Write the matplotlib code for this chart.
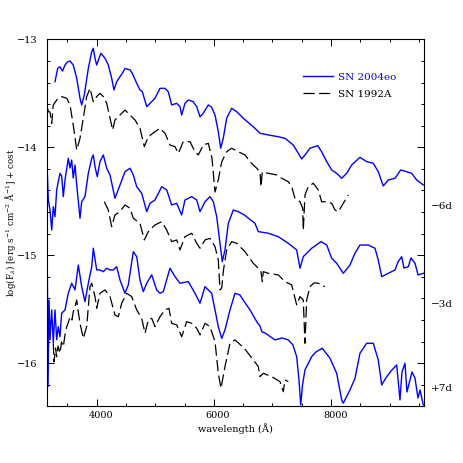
import matplotlib
matplotlib.use("Agg")
import matplotlib.pyplot as plt
from matplotlib.ticker import MultipleLocator
from matplotlib.transforms import ScaledTranslation

plt.rcParams['font.family'] = ['DejaVu Serif']
plt.rcParams['mathtext.fontset'] = 'dejavuserif'

# ---- SN 2004eo, -6d (top) ----
wl_eo_m6 = [3288, 3334, 3373, 3416, 3459, 3501, 3544, 3600, 3659, 3715, 3744, 3788, 3857, 3915, 3942,
            3971, 4000, 4039, 4073, 4142, 4198, 4256, 4295, 4341, 4398, 4454, 4483, 4569, 4608, 4683,
            4739, 4779, 4854, 4910, 4995, 5081, 5166, 5222, 5280, 5366, 5422, 5451, 5507, 5564, 5649,
            5707, 5764, 5820, 5905, 5960, 6020, 6076, 6117, 6161, 6219, 6305, 6390, 6503, 6702, 6788,
            6930, 7100, 7215, 7356, 7442, 7500, 7556, 7641, 7773, 7841, 7927, 8012, 8097, 8183, 8268,
            8353, 8495, 8609, 8722, 8807, 8893, 8978, 9093, 9190, 9292, 9378, 9463, 9576]
fl_eo_m6 = [-13.393, -13.269, -13.254, -13.294, -13.238, -13.210, -13.201, -13.238, -13.361, -13.546,
            -13.608, -13.516, -13.269, -13.115, -13.083, -13.176, -13.238, -13.176, -13.130, -13.176,
            -13.238, -13.361, -13.469, -13.393, -13.346, -13.300, -13.269, -13.284, -13.315, -13.407,
            -13.469, -13.485, -13.624, -13.593, -13.546, -13.454, -13.454, -13.485, -13.608, -13.593,
            -13.624, -13.701, -13.593, -13.562, -13.578, -13.624, -13.717, -13.685, -13.608, -13.627,
            -13.701, -13.856, -14.009, -13.917, -13.731, -13.639, -13.670, -13.731, -13.824, -13.870,
            -13.886, -13.902, -13.917, -13.979, -14.056, -14.108, -14.071, -14.009, -13.985, -14.041,
            -14.133, -14.210, -14.241, -14.287, -14.241, -14.164, -14.093, -14.133, -14.148, -14.226,
            -14.358, -14.303, -14.287, -14.210, -14.226, -14.241, -14.303, -14.349]

# ---- SN 1992A, -6d ----
wl_92_m6 = [3160, 3174, 3203, 3232, 3259, 3317, 3402, 3488, 3544, 3600, 3659, 3715, 3771, 3829, 3886,
            3942, 4000, 4056, 4113, 4171, 4273, 4312, 4398, 4483, 4569, 4654, 4739, 4813, 4881, 4995,
            5081, 5166, 5251, 5337, 5393, 5478, 5593, 5678, 5735, 5820, 5905, 5968, 6020, 6076, 6134,
            6219, 6305, 6417, 6532, 6617, 6732, 6788, 6805, 6827, 6930, 7073, 7158, 7271, 7329, 7385,
            7471, 7517, 7527, 7556, 7612, 7698, 7783, 7841, 7927, 8012, 8068, 8125, 8210, 8295]
fl_92_m6 = [-13.636, -13.670, -13.673, -13.778, -13.608, -13.562, -13.531, -13.546, -13.608, -13.794,
            -14.025, -13.917, -13.731, -13.531, -13.454, -13.578, -13.531, -13.500, -13.531, -13.593,
            -13.840, -13.747, -13.701, -13.655, -13.701, -13.747, -13.824, -13.994, -13.902, -13.856,
            -13.824, -13.870, -13.979, -13.994, -14.056, -13.948, -13.948, -14.041, -14.071, -13.979,
            -13.963, -14.099, -14.414, -14.303, -14.136, -14.041, -14.009, -14.041, -14.071, -14.133,
            -14.194, -14.229, -14.365, -14.229, -14.241, -14.256, -14.287, -14.319, -14.365, -14.472,
            -14.504, -14.565, -14.766, -14.442, -14.365, -14.333, -14.395, -14.504, -14.504, -14.519,
            -14.581, -14.596, -14.519, -14.442]

# ---- SN 2004eo, -3d ----
wl_eo_m3 = [3158, 3174, 3203, 3232, 3259, 3288, 3317, 3373, 3402, 3430, 3459, 3515, 3544, 3573, 3600,
            3630, 3659, 3715, 3744, 3800, 3857, 3915, 3942, 3971, 4010, 4056, 4113, 4171, 4227, 4312,
            4398, 4483, 4569, 4625, 4683, 4768, 4854, 4910, 4995, 5110, 5195, 5280, 5366, 5451, 5507,
            5622, 5707, 5764, 5849, 5934, 5991, 6049, 6105, 6144, 6190, 6247, 6332, 6417, 6520, 6702,
            6759, 6930, 7100, 7271, 7414, 7471, 7527, 7670, 7829, 7927, 8012, 8097, 8210, 8324, 8410,
            8495, 8637, 8751, 8807, 8866, 8978, 9093, 9144, 9207, 9246, 9320, 9365, 9434, 9487, 9576]
fl_eo_m3 = [-14.241, -14.488, -14.581, -14.766, -14.550, -14.643, -14.395, -14.241, -14.266, -14.457,
            -14.303, -14.102, -14.192, -14.118, -14.284, -14.164, -14.349, -14.657, -14.504, -14.457,
            -14.241, -14.102, -14.071, -14.180, -14.272, -14.133, -14.071, -14.194, -14.256, -14.472,
            -14.349, -14.226, -14.194, -14.256, -14.365, -14.426, -14.596, -14.519, -14.488, -14.365,
            -14.395, -14.534, -14.519, -14.627, -14.488, -14.457, -14.488, -14.596, -14.504, -14.457,
            -14.504, -14.643, -14.889, -15.059, -14.951, -14.704, -14.581, -14.596, -14.627, -14.704,
            -14.781, -14.796, -14.828, -14.889, -14.951, -15.120, -15.013, -14.935, -14.874, -14.905,
            -15.028, -15.074, -15.167, -15.090, -14.981, -14.905, -14.905, -14.935, -15.044, -15.198,
            -15.167, -15.136, -15.062, -15.013, -15.118, -15.106, -15.025, -15.074, -15.182, -15.167]

# ---- SN 1992A, -3d ----
wl_92_m3 = [4130, 4198, 4256, 4312, 4398, 4483, 4569, 4625, 4739, 4813, 4881, 4995, 5110, 5195, 5280,
            5366, 5422, 5507, 5622, 5707, 5764, 5849, 5934, 6020, 6076, 6105, 6134, 6165, 6219, 6305,
            6390, 6532, 6673, 6759, 6805, 6827, 6844, 6930, 7100, 7215, 7329, 7414, 7471, 7527, 7556,
            7585, 7641, 7710, 7783, 7898]
fl_92_m3 = [-14.504, -14.581, -14.735, -14.627, -14.596, -14.534, -14.565, -14.657, -14.704, -14.858,
            -14.781, -14.719, -14.689, -14.766, -14.874, -14.858, -14.951, -14.828, -14.796, -14.889,
            -14.935, -14.858, -14.843, -14.920, -15.044, -15.321, -15.303, -15.136, -14.951, -14.874,
            -14.889, -14.967, -15.074, -15.120, -15.152, -15.244, -15.152, -15.167, -15.182, -15.244,
            -15.275, -15.460, -15.383, -15.414, -15.815, -15.414, -15.291, -15.256, -15.259, -15.291]

# ---- SN 2004eo, +7d ----
wl_eo_p7 = [3158, 3169, 3186, 3203, 3232, 3259, 3288, 3317, 3344, 3373, 3402, 3459, 3515, 3573, 3630,
            3686, 3744, 3800, 3857, 3915, 3942, 4000, 4056, 4113, 4171, 4227, 4283, 4341, 4398, 4483,
            4539, 4625, 4683, 4739, 4796, 4854, 4939, 5024, 5081, 5137, 5251, 5337, 5422, 5564, 5678,
            5764, 5849, 5963, 6020, 6076, 6134, 6190, 6276, 6361, 6446, 6520, 6617, 6732, 6788, 6822,
            6873, 7044, 7163, 7271, 7351, 7414, 7454, 7483, 7514, 7556, 7670, 7744, 7851, 7983, 8097,
            8183, 8210, 8324, 8410, 8495, 8609, 8722, 8807, 8866, 8951, 9041, 9122, 9178, 9212, 9263,
            9297, 9349, 9383, 9434, 9485, 9520, 9576]
fl_eo_p7 = [-15.182, -16.217, -15.414, -15.782, -15.506, -15.812, -15.506, -15.782, -15.661, -15.754,
            -15.537, -15.506, -15.352, -15.259, -15.321, -15.090, -15.291, -15.430, -15.259, -15.106,
            -14.935, -15.136, -15.136, -15.152, -15.120, -15.136, -15.136, -15.106, -15.229, -15.352,
            -15.275, -14.967, -15.013, -15.229, -15.337, -15.259, -15.182, -15.321, -15.352, -15.337,
            -15.120, -15.198, -15.259, -15.244, -15.352, -15.444, -15.291, -15.352, -15.506, -15.661,
            -15.769, -15.692, -15.506, -15.352, -15.368, -15.430, -15.506, -15.615, -15.655, -15.710,
            -15.719, -15.784, -15.766, -15.784, -15.831, -15.939, -16.155, -16.386, -16.201, -16.062,
            -15.939, -15.895, -15.861, -15.954, -16.093, -16.340, -16.370, -16.247, -16.139, -15.907,
            -15.815, -15.815, -15.969, -16.201, -16.124, -16.062, -16.016, -16.340, -16.081, -16.000,
            -16.266, -16.154, -16.081, -16.136, -16.322, -16.248, -16.386]

# ---- SN 1992A, +7d ----
wl_92_p7 = [3259, 3271, 3297, 3317, 3339, 3373, 3399, 3430, 3459, 3488, 3519, 3544, 3578, 3600, 3638,
            3659, 3681, 3715, 3771, 3829, 3886, 3915, 3971, 4000, 4056, 4142, 4227, 4312, 4369, 4427,
            4512, 4598, 4683, 4768, 4825, 4881, 4939, 4995, 5081, 5166, 5234, 5280, 5366, 5451, 5536,
            5622, 5707, 5764, 5849, 5934, 6020, 6076, 6122, 6190, 6276, 6361, 6520, 6673, 6759, 6788,
            6844, 6988, 7129, 7186, 7215, 7271]
fl_92_p7 = [-15.815, -15.988, -15.859, -15.939, -15.840, -15.907, -15.803, -15.846, -15.738, -15.661,
            -15.618, -15.569, -15.599, -15.522, -15.460, -15.414, -15.506, -15.630, -15.769, -15.661,
            -15.291, -15.259, -15.383, -15.491, -15.352, -15.321, -15.383, -15.553, -15.569, -15.444,
            -15.352, -15.383, -15.506, -15.583, -15.722, -15.599, -15.583, -15.661, -15.569, -15.506,
            -15.491, -15.630, -15.645, -15.754, -15.615, -15.630, -15.676, -15.738, -15.630, -15.661,
            -15.800, -16.093, -16.231, -16.031, -15.815, -15.784, -15.861, -15.969, -16.031, -16.124,
            -16.093, -16.124, -16.170, -16.263, -16.155, -16.170]

epoch_labels = ["\u22126d", "\u22123d", "+7d"]
epoch_label_y = [-14.553, -15.458, -16.236]
legend_labels = ["SN 2004eo", "SN 1992A"]

fig = plt.figure(figsize=(4.63, 4.63), dpi=100)
ax = fig.add_axes([0.1022, 0.1238, 0.8142, 0.7913])

blue_kw = dict(color="blue", lw=1.0)
black_kw = dict(color="black", lw=0.9, dashes=(9, 3.5))

lb, = ax.plot(wl_eo_m6, fl_eo_m6, label=legend_labels[0], **blue_kw)
lk, = ax.plot(wl_92_m6, fl_92_m6, label=legend_labels[1], **black_kw)
ax.plot(wl_eo_m3, fl_eo_m3, **blue_kw)
ax.plot(wl_92_m3, fl_92_m3, **black_kw)
ax.plot(wl_eo_p7, fl_eo_p7, **blue_kw)
ax.plot(wl_92_p7, fl_92_p7, **black_kw)

ax.set_xlim(3157, 9593)
ax.set_ylim(-16.393, -13.0)

ax.xaxis.set_major_locator(MultipleLocator(2000))
ax.xaxis.set_minor_locator(MultipleLocator(500))
ax.yaxis.set_major_locator(MultipleLocator(1))
ax.yaxis.set_minor_locator(MultipleLocator(0.2))
ax.tick_params(which="both", direction="in", top=True, right=True, width=0.7, labelsize=7)
ax.tick_params(which="major", length=4.8)
ax.tick_params(which="minor", length=2.5)
ax.tick_params(axis="y", pad=7)
ax.tick_params(axis="x", pad=4)
for s in ax.spines.values():
    s.set_linewidth(0.8)

ax.yaxis.set_major_formatter(matplotlib.ticker.FuncFormatter(lambda v, p: f"{v:.0f}".replace("-", "\u2212")))
for lab in ax.get_xticklabels():
    lab.set_transform(lab.get_transform() + ScaledTranslation(3 / 72, 0, fig.dpi_scale_trans))

ax.set_xlabel("wavelength (\u00c5)", fontsize=7, labelpad=2)
ax.set_ylabel(r"log(F$_\lambda$) [erg s$^{-1}$ cm$^{-2}$ $\mathrm{\AA}^{-1}$] + cost", fontsize=6.3)
ax.yaxis.set_label_coords(-0.098, 0.5)
ax.yaxis.label.set_va("center")

for t, yv in zip(epoch_labels, epoch_label_y):
    ax.text(1.017, yv, t, transform=ax.get_yaxis_transform(), fontsize=7.5, va="center", ha="left")

leg = ax.legend(handles=[lb, lk], loc="upper left", bbox_to_anchor=(0.678, 0.909), frameon=False,
                fontsize=7.5, borderpad=0, borderaxespad=0, handlelength=2.9, handletextpad=0.5,
                labelspacing=0.75, labelcolor=["blue", "black"])

fig.savefig("out.png", dpi=100)
